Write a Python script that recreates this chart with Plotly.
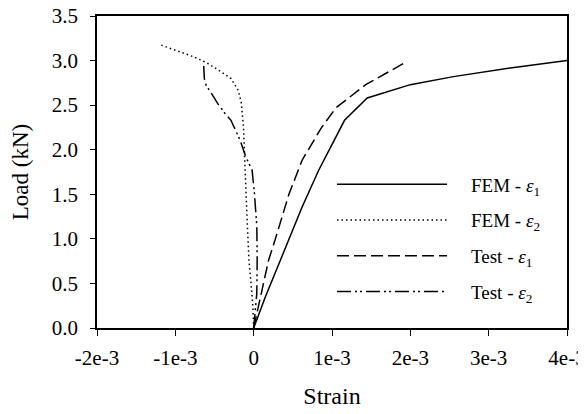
import plotly.graph_objects as go

# Strain values (x 1e-3) and load (kN)
fem_e1_strain = [0, 0.15, 0.35, 0.62, 0.83, 0.98, 1.16, 1.45, 2.0, 2.55, 3.3, 4.0]
fem_e1_load = [0, 0.35, 0.78, 1.36, 1.77, 2.03, 2.33, 2.58, 2.73, 2.82, 2.92, 3.0]

fem_e2_strain = [0, -0.01, -0.03, -0.06, -0.08, -0.10, -0.115, -0.13, -0.16, -0.20, -0.29, -0.46, -0.61, -0.76, -1.20]
fem_e2_load = [0, 0.24, 0.46, 0.76, 1.14, 1.51, 1.90, 2.26, 2.54, 2.67, 2.80, 2.90, 2.98, 3.04, 3.18]

test_e1_strain = [0, 0.10, 0.19, 0.26, 0.45, 0.62, 0.86, 1.05, 1.43, 1.96]
test_e1_load = [0, 0.40, 0.76, 0.95, 1.50, 1.885, 2.24, 2.47, 2.73, 2.99]

test_e2_strain = [0, 0.04, 0.045, 0.04, 0.01, -0.02, -0.10, -0.175, -0.29, -0.36, -0.46, -0.61, -0.63, -0.64]
test_e2_load = [0, 0.39, 0.76, 1.14, 1.51, 1.77, 1.92, 2.11, 2.33, 2.40, 2.52, 2.73, 2.80, 2.99]

x_tick_vals = [-2e-3, -1e-3, 0, 1e-3, 2e-3, 3e-3, 4e-3]
x_tick_text = ["-2e-3", "-1e-3", "0", "1e-3", "2e-3", "3e-3", "4e-3"]
y_tick_vals = [0, 0.5, 1.0, 1.5, 2.0, 2.5, 3.0, 3.5]
y_tick_text = ["0.0", "0.5", "1.0", "1.5", "2.0", "2.5", "3.0", "3.5"]

series_names = ["FEM - <i>ε</i><sub>1</sub>", "FEM - <i>ε</i><sub>2</sub>",
                "Test - <i>ε</i><sub>1</sub>", "Test - <i>ε</i><sub>2</sub>"]

FONT = "Liberation Serif"
PAD = "\u00a0\u00a0\u00a0\u00a0"

def sc(v):
    return [s * 1e-3 for s in v]

data = [(fem_e1_strain, fem_e1_load, "solid", "a"),
        (fem_e2_strain, fem_e2_load, "1.5px,3px", "b"),
        (test_e1_strain, test_e1_load, "12px,5px", "c"),
        (test_e2_strain, test_e2_load, "14px,4px,2px,3px,2px,4px", "d")]

fig = go.Figure()
for (xs, ys, dash, grp), nm in zip(data, series_names):
    fig.add_trace(go.Scatter(x=sc(xs), y=ys, mode="lines", name=PAD + nm,
                             legendgroup=grp,
                             line=dict(color="black", width=1.5, dash=dash)))

# page body has an 8px default margin, so the figure is sized to fit the window
fig.update_layout(
    template="none",
    width=578, height=406,
    margin=dict(l=89, r=19, t=8, b=86),
    paper_bgcolor="white", plot_bgcolor="white",
    font=dict(family=FONT, color="black", size=18),
    showlegend=True,
    legend=dict(x=0.5, y=0.521, xanchor="left", yanchor="top",
                bgcolor="rgba(0,0,0,0)", itemwidth=110, tracegroupgap=8,
                font=dict(family=FONT, size=19)),
    xaxis=dict(range=[-2e-3, 4e-3], tickmode="array", tickvals=x_tick_vals, ticktext=x_tick_text,
               showgrid=False, zeroline=False, showline=True, linecolor="black",
               linewidth=1.5, mirror=True, ticks="outside", ticklen=6, tickwidth=1.2,
               tickcolor="black", ticklabelstandoff=4, ticklabeloverflow="allow",
               tickfont=dict(family=FONT, size=21, color="black"),
               title=dict(text="Strain", font=dict(family=FONT, size=24), standoff=18)),
    yaxis=dict(range=[0, 3.5], tickmode="array", tickvals=y_tick_vals, ticktext=y_tick_text,
               showgrid=False, zeroline=False, showline=True, linecolor="black",
               linewidth=1.5, mirror=True, ticks="outside", ticklen=5, tickwidth=1.2,
               tickcolor="black", ticklabelstandoff=8, ticklabeloverflow="allow",
               tickfont=dict(family=FONT, size=21, color="black"),
               title=dict(text="Load (kN)", font=dict(family=FONT, size=23), standoff=19)),
)

fig.write_html("out.html")
